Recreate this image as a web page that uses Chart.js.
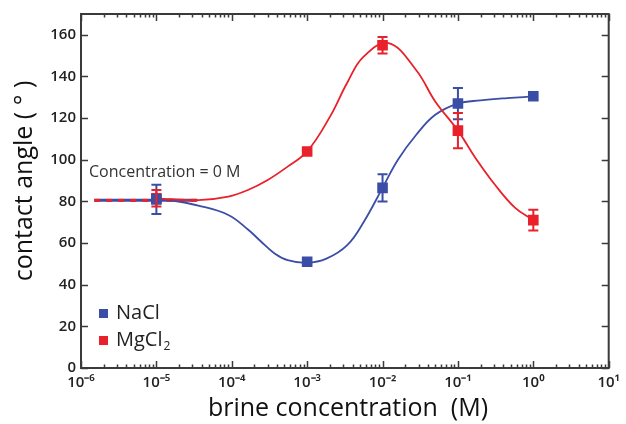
<!DOCTYPE html>
<html>
<head>
<meta charset="utf-8">
<script src="https://cdn.jsdelivr.net/npm/chart.js@4.4.1/dist/chart.umd.min.js"></script>
<style>
  html, body { margin: 0; padding: 0; background: #fff; }
  #wrap { width: 626px; height: 424px; }
</style>
</head>
<body>
<div id="wrap"><canvas id="chart" width="626" height="424"></canvas></div>
<script>
const concentration = [1e-5, 1e-3, 1e-2, 1e-1, 1];
const naclAngle = [81, 51, 86.5, 127, 130.5];
const naclErr = [7, 0, 6.5, 7.5, 0];
const mgcl2Angle = [81.5, 104, 155, 114, 71];
const mgcl2Err = [4, 0, 4, 8.5, 5];

// fitted curves, sampled off the figure
const naclFitX = [1e-5, 1.5e-5, 3.6e-5, 9e-5, 1.64e-4, 2.4e-4, 3.7e-4, 5.5e-4, 1e-3, 1.8e-3, 3.4e-3, 5.6e-3, 1e-2, 1.6e-2, 2.8e-2, 5e-2, 0.1, 0.2, 0.45, 1];
const naclFitY = [81, 80.6, 78, 73.5, 66.5, 61, 55, 51.8, 50.5, 52.5, 59, 70, 86.5, 100, 112, 121.6, 127, 128.5, 129.6, 130.4];
const mgcl2FitX = [1e-5, 3.6e-5, 9e-5, 1.64e-4, 3e-4, 5.5e-4, 1e-3, 2e-3, 3.4e-3, 5.6e-3, 1.2e-2, 2.8e-2, 5e-2, 0.1, 0.17, 0.31, 0.57, 1];
const mgcl2FitY = [81.5, 80.6, 82.3, 85.5, 90.3, 96.7, 104, 120.6, 137, 149.5, 156, 143, 128, 114, 101, 88, 77, 71];

// "Concentration = 0 M" reference line
const zeroConcX = [1.5e-6, 3.5e-5];
const zeroConcY = [80.5, 80.5];

const xTicks = [1e-6, 1e-5, 1e-4, 1e-3, 1e-2, 1e-1, 1, 10];
const xTickLabels = ['10⁻⁶', '10⁻⁵', '10⁻⁴', '10⁻³', '10⁻²', '10⁻¹', '10⁰', '10¹'];
const yTicks = [0, 20, 40, 60, 80, 100, 120, 140, 160];

const BLUE = '#3a4ea6';
const RED = '#e8212b';
const AXIS = '#3a3a3a';

const pts = (xs, ys) => xs.map((x, i) => ({ x: x, y: ys[i] }));

// error bars, inward ticks, box, legend, titles
const extras = {
    id: 'extras',
    afterDatasetsDraw(chart) {
        const ctx = chart.ctx;
        const xs = chart.scales.x, ys = chart.scales.y;

        [[naclAngle, naclErr, BLUE], [mgcl2Angle, mgcl2Err, RED]].forEach(([vals, errs, col]) => {
            ctx.save();
            ctx.strokeStyle = col;
            ctx.lineWidth = 2;
            vals.forEach((v, i) => {
                if (!errs[i]) return;
                const px = xs.getPixelForValue(concentration[i]);
                const top = ys.getPixelForValue(v + errs[i]);
                const bot = ys.getPixelForValue(v - errs[i]);
                ctx.beginPath();
                ctx.moveTo(px, top); ctx.lineTo(px, bot);
                ctx.moveTo(px - 5, top); ctx.lineTo(px + 5, top);
                ctx.moveTo(px - 5, bot); ctx.lineTo(px + 5, bot);
                ctx.stroke();
            });
            ctx.restore();
        });
    },
    afterDraw(chart) {
        const ctx = chart.ctx;
        const xs = chart.scales.x, ys = chart.scales.y;
        const a = chart.chartArea;

        ctx.save();
        ctx.strokeStyle = AXIS;
        ctx.lineWidth = 1.5;
        ctx.beginPath();
        // x ticks, major + minor, bottom and top
        xTicks.forEach((d, i) => {
            const p = Math.round(xs.getPixelForValue(d)) + 0.5;
            ctx.moveTo(p, a.bottom); ctx.lineTo(p, a.bottom - 7);
            ctx.moveTo(p, a.top); ctx.lineTo(p, a.top + 7);
            if (i === xTicks.length - 1) return;
            for (let k = 2; k <= 9; k++) {
                const q = Math.round(xs.getPixelForValue(d * k)) + 0.5;
                ctx.moveTo(q, a.bottom); ctx.lineTo(q, a.bottom - 3.5);
                ctx.moveTo(q, a.top); ctx.lineTo(q, a.top + 3.5);
            }
        });
        // y ticks, left and right
        yTicks.forEach(v => {
            const p = Math.round(ys.getPixelForValue(v)) + 0.5;
            ctx.moveTo(a.left, p); ctx.lineTo(a.left + 7, p);
            ctx.moveTo(a.right, p); ctx.lineTo(a.right - 7, p);
        });
        ctx.stroke();
        ctx.lineWidth = 2;
        ctx.strokeRect(a.left, a.top, a.right - a.left, a.bottom - a.top);
        ctx.restore();

        // annotation
        ctx.save();
        ctx.fillStyle = '#333';
        ctx.font = '16px "Open Sans"';
        ctx.textBaseline = 'middle';
        ctx.fillText('Concentration = 0 M', 89, 172);

        // legend
        ctx.font = '20px "Open Sans"';
        ctx.fillStyle = BLUE;
        ctx.fillRect(99, 309, 9, 9);
        ctx.fillStyle = RED;
        ctx.fillRect(99, 336, 9, 9);
        ctx.fillStyle = '#222';
        ctx.fillText('NaCl', 116, 313);
        ctx.fillText('MgCl', 116, 340);
        const w = ctx.measureText('MgCl').width;
        ctx.font = '12px "Open Sans"';
        ctx.fillText('2', 116 + w + 1, 347);

        // axis titles
        ctx.fillStyle = '#111';
        ctx.font = '25px "Open Sans"';
        ctx.textAlign = 'center';
        ctx.textBaseline = 'alphabetic';
        ctx.fillText('brine concentration  (M)', 348, 416);
        ctx.translate(32, 181);
        ctx.rotate(-Math.PI / 2);
        ctx.fillText('contact angle ( ° )', 0, 0);
        ctx.restore();
    }
};

const curve = (xs, ys, col, ord) => ({
    data: pts(xs, ys),
    showLine: true,
    tension: 0.4,
    borderColor: col,
    borderWidth: 1.8,
    pointRadius: 0,
    order: ord
});

const markers = (ys, col, label) => ({
    label: label,
    data: pts(concentration, ys),
    showLine: false,
    backgroundColor: col,
    borderColor: col,
    pointStyle: 'rect',
    pointRadius: 7.5,
    pointBorderWidth: 0,
    order: 1
});

new Chart(document.getElementById('chart'), {
    type: 'scatter',
    data: {
        datasets: [
            { data: pts(zeroConcX, zeroConcY), showLine: true, borderColor: BLUE, borderWidth: 3, pointRadius: 0, order: 6 },
            { data: pts(zeroConcX, zeroConcY), showLine: true, borderColor: RED, borderWidth: 3, borderDash: [6, 6], pointRadius: 0, order: 5 },
            curve(naclFitX, naclFitY, BLUE, 4),
            curve(mgcl2FitX, mgcl2FitY, RED, 3),
            markers(naclAngle, BLUE, 'NaCl'),
            markers(mgcl2Angle, RED, 'MgCl2')
        ]
    },
    options: {
        responsive: false,
        animation: false,
        events: [],
        layout: { padding: { top: 14, right: 11, left: 0, bottom: 0 } },
        plugins: {
            legend: { display: false },
            tooltip: { enabled: false }
        },
        scales: {
            x: {
                type: 'logarithmic',
                min: 1e-6,
                max: 10,
                afterBuildTicks: s => { s.ticks = xTicks.map(v => ({ value: v })); },
                afterFit: s => { s.height = 56; },
                grid: { display: false, drawTicks: false },
                border: { display: false },
                ticks: {
                    autoSkip: false,
                    maxRotation: 0,
                    padding: 6,
                    color: '#222',
                    font: { family: 'Open Sans', size: 15, weight: '600' },
                    callback: (v, i) => xTickLabels[i]
                }
            },
            y: {
                min: 0,
                max: 170,
                afterBuildTicks: s => { s.ticks = yTicks.map(v => ({ value: v })); },
                afterFit: s => { s.width = 81; },
                grid: { display: false, drawTicks: false },
                border: { display: false },
                ticks: {
                    padding: 5,
                    color: '#222',
                    font: { family: 'Open Sans', size: 15, weight: '600' }
                }
            }
        }
    },
    plugins: [extras]
});
</script>
</body>
</html>
